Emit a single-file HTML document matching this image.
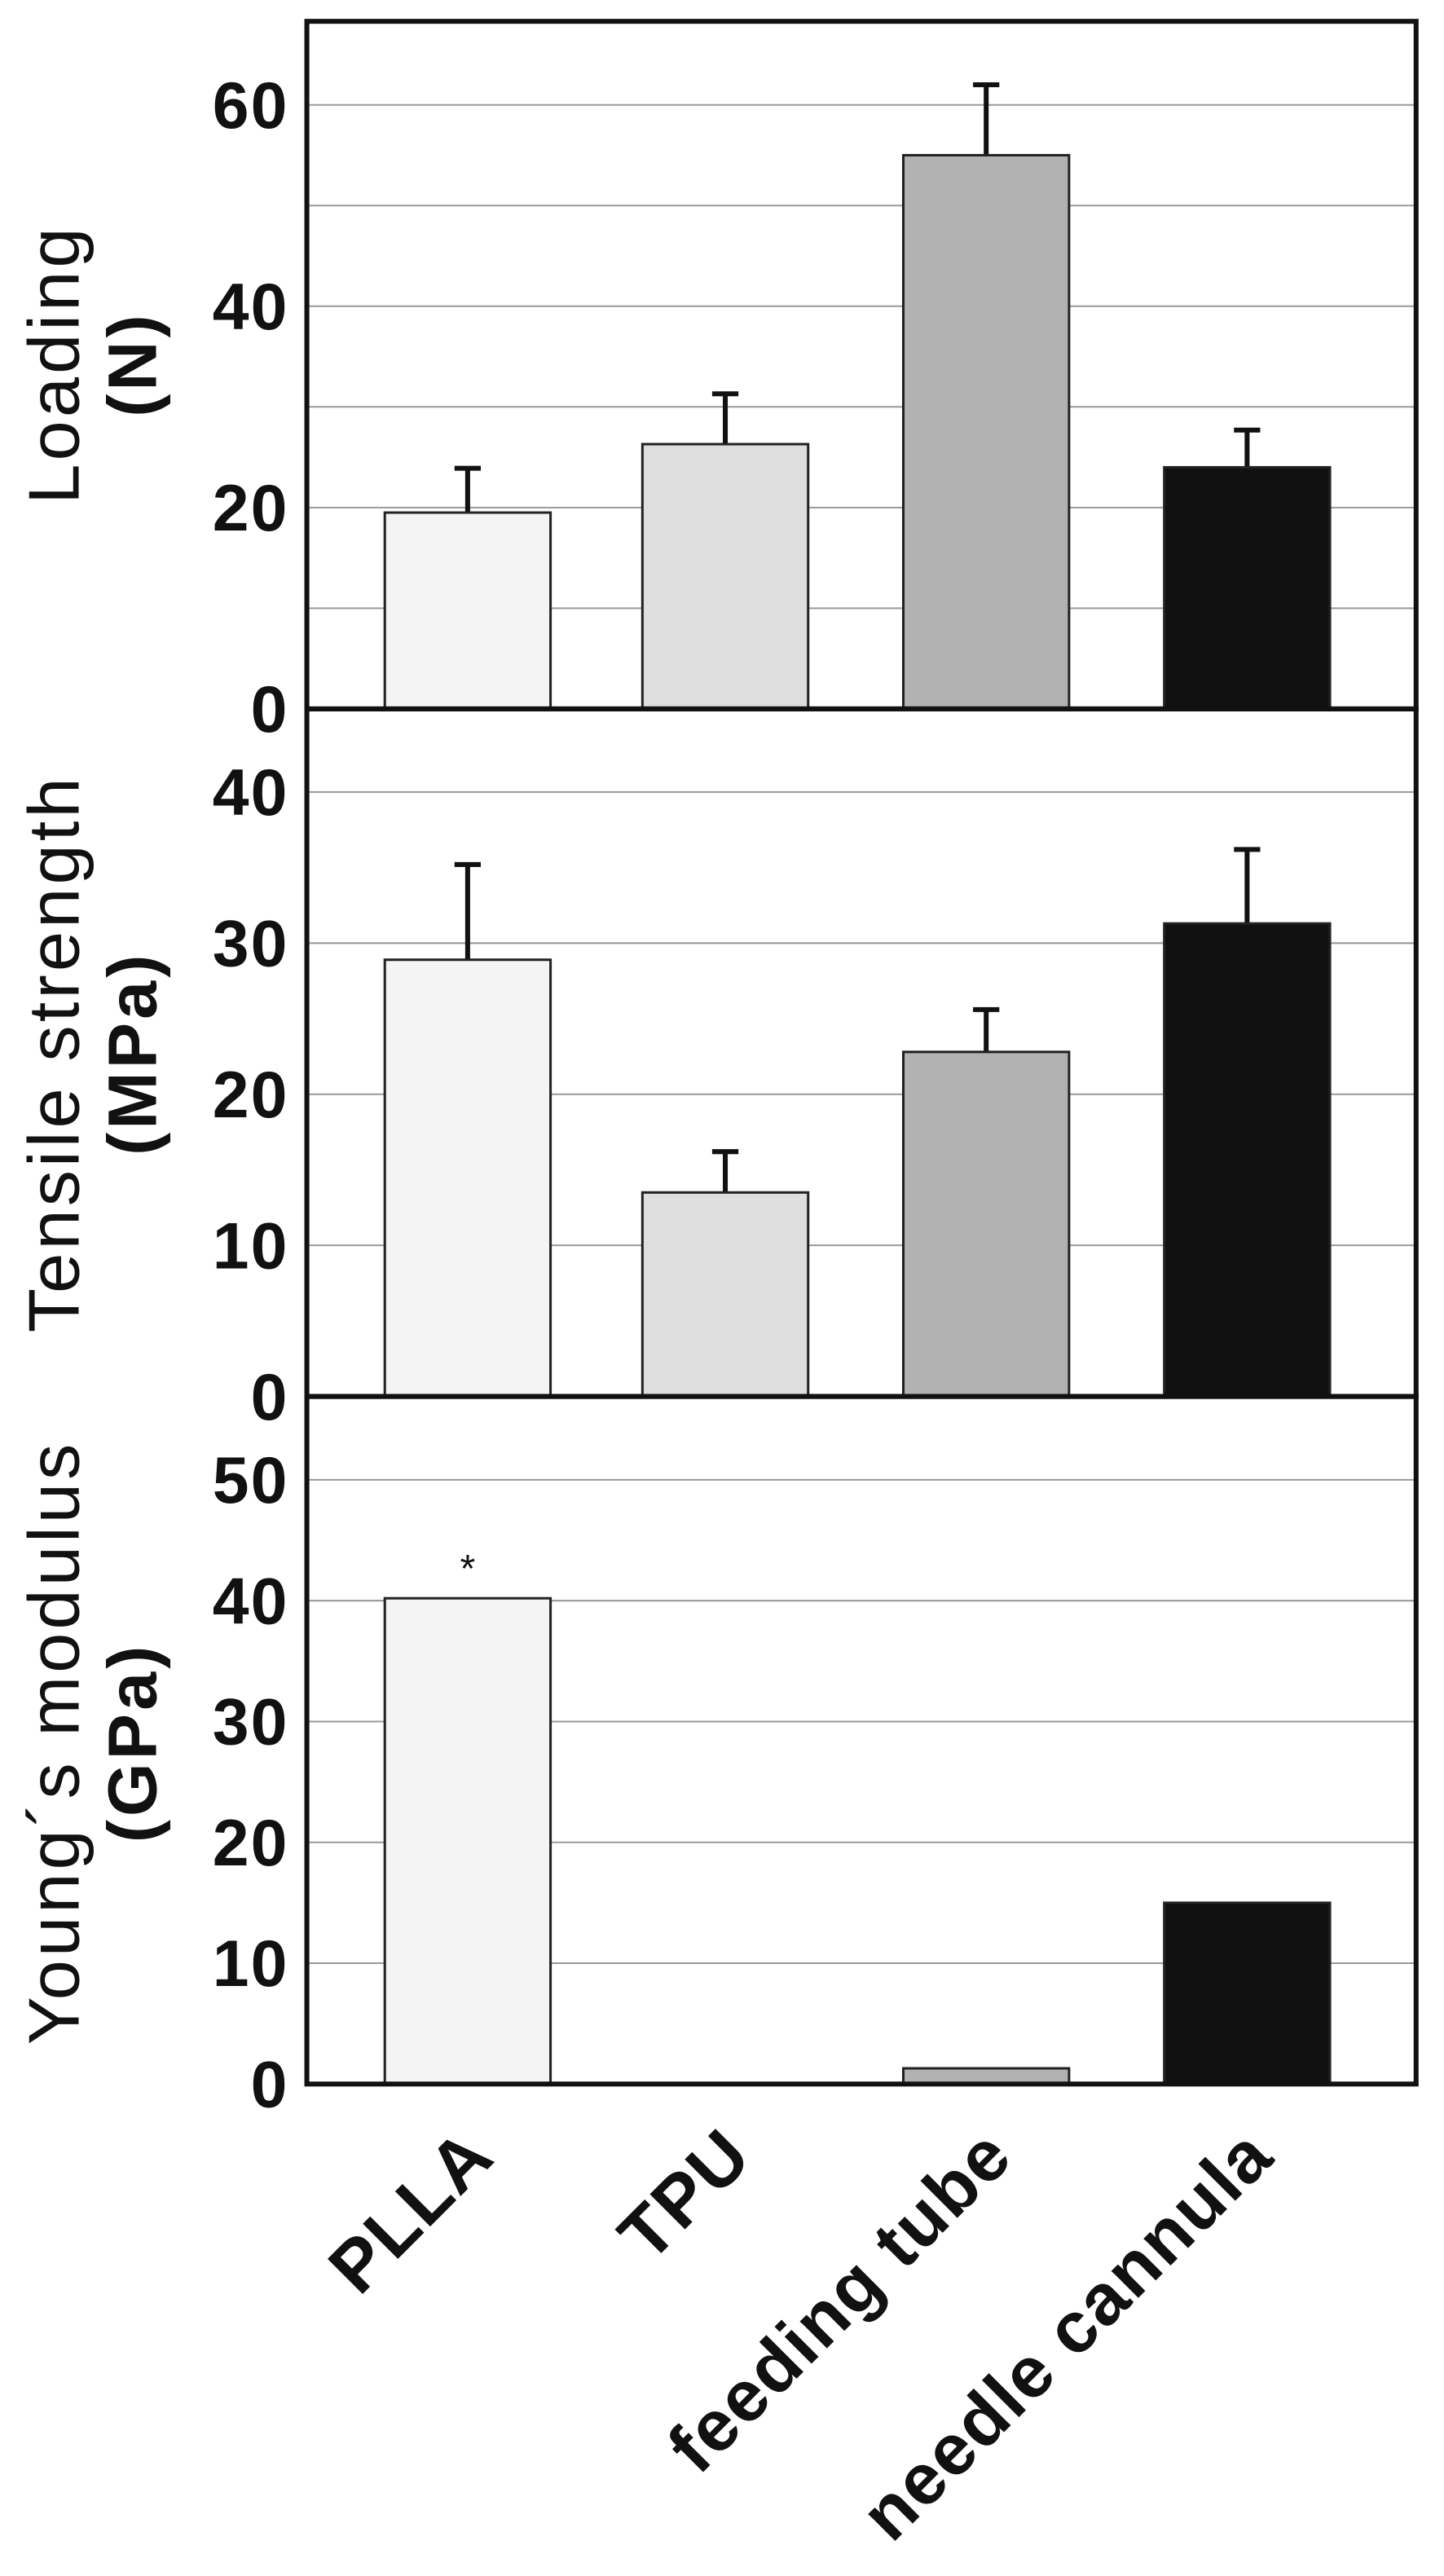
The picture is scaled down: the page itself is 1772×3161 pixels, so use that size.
<!DOCTYPE html>
<html><head><meta charset="utf-8"><style>
html,body{margin:0;padding:0;background:#fff;}
svg{display:block;}
text{font-family:"Liberation Sans",sans-serif;}
</style></head><body>
<svg id="chart" width="1772" height="3161" viewBox="0 0 880 1569.8" preserveAspectRatio="none" xmlns="http://www.w3.org/2000/svg"></svg>
<script>
const categories = ["PLLA", "TPU", "feeding tube", "needle cannula"];
const loadingValues = [19.5, 26.3, 55, 24];
const loadingErrTops = [23.9, 31.3, 62, 27.7];
const tensileValues = [28.9, 13.5, 22.8, 31.3];
const tensileErrTops = [35.2, 16.2, 25.6, 36.2];
const modulusValues = [40.2, 0, 1.3, 15];
const loadingTicks = [0, 20, 40, 60];
const loadingGrid = [10, 20, 30, 40, 50, 60];
const tensileTicks = [0, 10, 20, 30, 40];
const modulusTicks = [0, 10, 20, 30, 40, 50];
const barColors = ["#f4f4f4", "#dedede", "#b2b2b2", "#111111"];

const NS = "http://www.w3.org/2000/svg";
const svg = document.getElementById("chart");
function mk(tag, attrs, parent) {
  const e = document.createElementNS(NS, tag);
  for (const k in attrs) e.setAttribute(k, attrs[k]);
  (parent || svg).appendChild(e);
  return e;
}
const X0 = 187, X1 = 863;
const barW = 101;
const centers = [285, 442, 601, 760];
function xCenter(i) { return centers[i]; }

const panels = [
  {name:"loading", top:13, zero:432, max:68.3, vals:loadingValues, errs:loadingErrTops, ticks:loadingTicks, grid:loadingGrid, title:"Loading", unit:"(N)", tcy:222},
  {name:"tensile", top:432, zero:851, max:45.5, vals:tensileValues, errs:tensileErrTops, ticks:tensileTicks, grid:[10,20,30,40], title:"Tensile strength", unit:"(MPa)", tcy:642},
  {name:"modulus", top:851, zero:1270, max:56.9, vals:modulusValues, errs:null, ticks:modulusTicks, grid:[10,20,30,40,50], title:"Young\u00b4s modulus", unit:"(GPa)", tcy:1062}
];

panels.forEach(p => {
  const g = mk("g", {});
  
  
  const y = v => p.zero - v / p.max * (p.zero - p.top);
  p.grid.forEach(v => {
    const l = mk("line", {x1:X0, x2:X1, y1:y(v), y2:y(v), stroke:"#999", "stroke-width":1}, g);
    
    
  });
  p.ticks.forEach(v => {
    const t = mk("text", {x:176, y:y(v) + 14, "text-anchor":"end", "font-size":40, "font-weight":"bold", "letter-spacing":1, fill:"#111"}, g);
    t.textContent = v;
    
    
  });
  p.vals.forEach((v, i) => {
    const cx = xCenter(i);
    if (p.errs) {
      const e = mk("path", {d:`M${cx},${y(v)}V${y(p.errs[i])}M${cx-8},${y(p.errs[i])}H${cx+8}`, stroke:"#111", "stroke-width":3, fill:"none"}, g);
      
      
    }
    if (v > 0) {
      const r = mk("rect", {x:cx - barW/2, y:y(v), width:barW, height:p.zero - y(v), fill:barColors[i], stroke:"#222", "stroke-width":1.5}, g);
      
      
    }
  });
  const f = mk("rect", {x:X0, y:p.top, width:X1 - X0, height:p.zero - p.top, fill:"none", stroke:"#111", "stroke-width":3}, g);
  
  
  const t1 = mk("text", {transform:`translate(48,${p.tcy}) rotate(-90)`, "text-anchor":"middle", "font-size":44, "letter-spacing":2, fill:"#111"}, g);
  t1.textContent = p.title;
  
  
  const t2 = mk("text", {transform:`translate(95,${p.tcy}) rotate(-90)`, "text-anchor":"middle", "font-size":42, "font-weight":"bold", "letter-spacing":2, fill:"#111"}, g);
  t2.textContent = p.unit;
  
  
  if (p.name === "modulus") {
    const s = mk("text", {x:xCenter(0), y:y(p.vals[0]) - 10, "text-anchor":"middle", "font-size":24, fill:"#111"}, g);
    s.textContent = "*";
    
    
  }
});

categories.forEach((c, i) => {
  const cx = xCenter(i) + 18;
  const t = mk("text", {transform:`translate(${cx},1316) rotate(-45)`, "text-anchor":"end", "font-size":44, "font-weight":"bold", "letter-spacing":1, fill:"#111"});
  t.textContent = c;
  
  
});
</script>
</body></html>
